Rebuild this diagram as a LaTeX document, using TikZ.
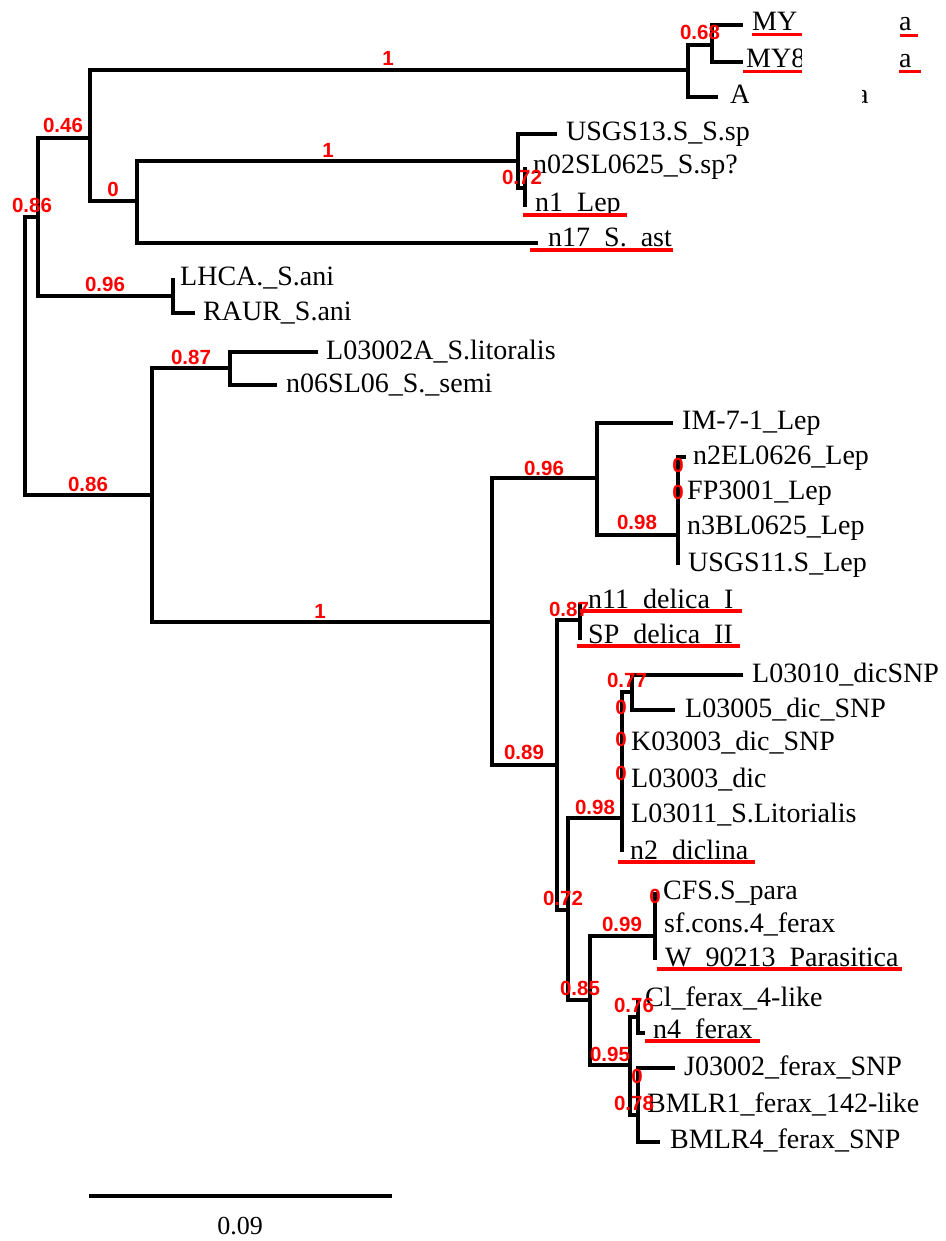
\documentclass[tikz,border=0pt]{standalone}
\usepackage{fontspec}
\setmainfont{Liberation Serif}
\newfontfamily\supfont{Liberation Sans}
\begin{document}
\begin{tikzpicture}[x=1pt,y=-1pt,
  br/.style={line width=3.5pt, line join=miter, line cap=butt, black},
  leaf/.style={anchor=base west, inner sep=0pt, font=\fontsize{28}{30}\selectfont},
  sup/.style={text=red, inner sep=0pt, font=\supfont\bfseries\fontsize{20.5}{22}\selectfont},
  ul/.style={draw=red, line width=3.8pt},
  cover/.style={fill=white, draw=none}]
\useasboundingbox (0,0) rectangle (945,1241);
% internal nodes
\coordinate (R) at (25,356);
\coordinate (nA) at (38,217);
\coordinate (nC) at (90,138);
\coordinate (nE) at (688,70);
\coordinate (nG) at (712,45);
\coordinate (nF) at (137,201);
\coordinate (nH) at (518,161);
\coordinate (nI) at (525,188);
\coordinate (nD) at (173,296);
\coordinate (nB) at (152,495);
\coordinate (nJ) at (230,368);
\coordinate (nK) at (492,622);
\coordinate (nL) at (597,478);
\coordinate (nN) at (678,535);
\coordinate (nM) at (557,765);
\coordinate (nO) at (580,620);
\coordinate (nP) at (568,910);
\coordinate (nQ) at (622,818);
\coordinate (nS) at (632,692);
\coordinate (nR) at (590,1000);
\coordinate (nT) at (655,936);
\coordinate (nU) at (630,1065);
\coordinate (nV) at (638,1017);
\coordinate (nW) at (638,1115);
% tips
\coordinate (pMY1) at (743,25);
\coordinate (pMY8) at (743,62);
\coordinate (pA) at (718,97);
\coordinate (pUS13) at (557,134);
\coordinate (pN02) at (525,167);
\coordinate (pN1) at (525,207);
\coordinate (pN17) at (538,243);
\coordinate (pLH) at (173,278);
\coordinate (pRA) at (195,313);
\coordinate (pL02) at (318,352);
\coordinate (pN06) at (277,385);
\coordinate (pIM) at (673,423);
\coordinate (pN2E) at (686,457);
\coordinate (pFP) at (678,492);
\coordinate (pN3B) at (678,527);
\coordinate (pU11) at (678,565);
\coordinate (pN11) at (580,603);
\coordinate (pSP) at (580,640);
\coordinate (pL10) at (743,675);
\coordinate (pL05) at (675,710);
\coordinate (pK03) at (622,743);
\coordinate (pL03) at (622,780);
\coordinate (pL11) at (622,815);
\coordinate (pN2d) at (622,852);
\coordinate (pCFS) at (655,892);
\coordinate (pSF) at (655,925);
\coordinate (pW) at (655,960);
\coordinate (pCl) at (638,1000);
\coordinate (pN4) at (645,1033);
\coordinate (pJ) at (675,1068);
\coordinate (pB1) at (638,1105);
\coordinate (pB4) at (660,1142);
% branches
\draw[br] (R) |- (nA);
\draw[br] (R) |- (nB);
\draw[br] (nA) |- (nC);
\draw[br] (nA) |- (nD);
\draw[br] (nC) |- (nE);
\draw[br] (nC) |- (nF);
\draw[br] (nE) |- (nG);
\draw[br] (nE) |- (pA);
\draw[br] (nG) |- (pMY1);
\draw[br] (nG) |- (pMY8);
\draw[br] (nF) |- (nH);
\draw[br] (nF) |- (pN17);
\draw[br] (nH) |- (pUS13);
\draw[br] (nH) |- (nI);
\draw[br] (nI) |- (pN02);
\draw[br] (nI) |- (pN1);
\draw[br] (nD) |- (pLH);
\draw[br] (nD) |- (pRA);
\draw[br] (nB) |- (nJ);
\draw[br] (nB) |- (nK);
\draw[br] (nJ) |- (pL02);
\draw[br] (nJ) |- (pN06);
\draw[br] (nK) |- (nL);
\draw[br] (nK) |- (nM);
\draw[br] (nL) |- (pIM);
\draw[br] (nL) |- (nN);
\draw[br] (nN) |- (pN2E);
\draw[br] (nN) |- (pFP);
\draw[br] (nN) |- (pN3B);
\draw[br] (nN) |- (pU11);
\draw[br] (nM) |- (nO);
\draw[br] (nM) |- (nP);
\draw[br] (nO) |- (pN11);
\draw[br] (nO) |- (pSP);
\draw[br] (nP) |- (nQ);
\draw[br] (nP) |- (nR);
\draw[br] (nQ) |- (nS);
\draw[br] (nQ) |- (pK03);
\draw[br] (nQ) |- (pL03);
\draw[br] (nQ) |- (pL11);
\draw[br] (nQ) |- (pN2d);
\draw[br] (nS) |- (pL10);
\draw[br] (nS) |- (pL05);
\draw[br] (nR) |- (nT);
\draw[br] (nR) |- (nU);
\draw[br] (nT) |- (pCFS);
\draw[br] (nT) |- (pSF);
\draw[br] (nT) |- (pW);
\draw[br] (nU) |- (nV);
\draw[br] (nU) |- (nW);
\draw[br] (nV) |- (pCl);
\draw[br] (nV) |- (pN4);
\draw[br] (nW) |- (pJ);
\draw[br] (nW) |- (pB1);
\draw[br] (nW) |- (pB4);
% leaf labels
\node[leaf] (tMY1) at (752,31) {MY};
\node[leaf] (tMY1b) at (899,31) {a};
\node[leaf] (tMY8) at (746,68) {MY8};
\node[leaf] (tMY8b) at (899,68) {a};
\node[leaf] (tA) at (730,104) {A};
\node[leaf] (tAb) at (856,104) {a};
\node[leaf] (tUS13) at (566,141) {USGS13.S\_S.sp};
\node[leaf] (tN02) at (533,174) {n02SL0625\_S.sp?};
\node[leaf] (tN1) at (535,212) {n1\_Lep};
\node[leaf] (tN17) at (548,247) {n17\_S.\_ast};
\node[leaf] (tLH) at (180,285) {LHCA.\_S.ani};
\node[leaf] (tRA) at (203,320) {RAUR\_S.ani};
\node[leaf] (tL02) at (326,359) {L03002A\_S.litoralis};
\node[leaf] (tN06) at (286,392) {n06SL06\_S.\_semi};
\node[leaf] (tIM) at (682,429) {IM-7-1\_Lep};
\node[leaf] (tN2E) at (693,464) {n2EL0626\_Lep};
\node[leaf] (tFP) at (687,499) {FP3001\_Lep};
\node[leaf] (tN3B) at (687,534) {n3BL0625\_Lep};
\node[leaf] (tU11) at (688,571) {USGS11.S\_Lep};
\node[leaf] (tN11) at (588,608) {n11\_delica\_I};
\node[leaf] (tSP) at (588,643) {SP\_delica\_II};
\node[leaf] (tL10) at (752,682) {L03010\_dicSNP};
\node[leaf] (tL05) at (685,717) {L03005\_dic\_SNP};
\node[leaf] (tK03) at (631,750) {K03003\_dic\_SNP};
\node[leaf] (tL03) at (631,787) {L03003\_dic};
\node[leaf] (tL11) at (631,822) {L03011\_S.Litorialis};
\node[leaf] (tN2d) at (630,859) {n2\_diclina};
\node[leaf] (tCFS) at (663,899) {CFS.S\_para};
\node[leaf] (tSF) at (664,932) {sf.cons.4\_ferax};
\node[leaf] (tW) at (665,966) {W\_90213\_Parasitica};
\node[leaf] (tCl) at (645,1006) {Cl\_ferax\_4-like};
\node[leaf] (tN4) at (653,1038) {n4\_ferax};
\node[leaf] (tJ) at (684,1075) {J03002\_ferax\_SNP};
\node[leaf] (tB1) at (647,1112) {BMLR1\_ferax\_142-like};
\node[leaf] (tB4) at (670,1148) {BMLR4\_ferax\_SNP};
% white covers over hidden text
\fill[cover] (802,0) rectangle (897,82);
\fill[cover] (749,82) rectangle (862,150);
% red underlines
\draw[ul] (752,34.5) -- (802,34.5);
\draw[ul] (900,35.5) -- (918,35.5);
\draw[ul] (743,71.5) -- (802,71.5);
\draw[ul] (899,71.5) -- (921,71.5);
\draw[ul] (523,215) -- (627,215);
\draw[ul] (530,250) -- (673,250);
\draw[ul] (580,611) -- (742,611);
\draw[ul] (577,646) -- (740,646);
\draw[ul] (618,862) -- (755,862);
\draw[ul] (657,969) -- (902,969);
\draw[ul] (645,1041) -- (760,1041);
% support values
\node[sup] (s1) at (388,58) {1};
\node[sup] (s2) at (700,32) {0.68};
\node[sup] (s3) at (63,125) {0.46};
\node[sup] (s4) at (328,150) {1};
\node[sup] (s5) at (113,189) {0};
\node[sup] (s6) at (522,177) {0.72};
\node[sup] (s7) at (32,205) {0.86};
\node[sup] (s8) at (105,284) {0.96};
\node[sup] (s9) at (191,357) {0.87};
\node[sup] (s10) at (88,484) {0.86};
\node[sup] (s11) at (320,611) {1};
\node[sup] (s12) at (544,468) {0.96};
\node[sup] (s13) at (678,465) {0};
\node[sup] (s14) at (678,492) {0};
\node[sup] (s15) at (637,522) {0.98};
\node[sup] (s16) at (569,609) {0.87};
\node[sup] (s17) at (627,680) {0.77};
\node[sup] (s18) at (621,707) {0};
\node[sup] (s19) at (621,739) {0};
\node[sup] (s20) at (621,773) {0};
\node[sup] (s21) at (524,752) {0.89};
\node[sup] (s22) at (595,807) {0.98};
\node[sup] (s23) at (563,898) {0.72};
\node[sup] (s24) at (655,896) {0};
\node[sup] (s25) at (622,924) {0.99};
\node[sup] (s26) at (580,988) {0.85};
\node[sup] (s27) at (634,1005) {0.76};
\node[sup] (s28) at (610,1054) {0.95};
\node[sup] (s29) at (637,1076) {0};
\node[sup] (s30) at (634,1103) {0.78};
% scale bar
\coordinate (sbL) at (89,1196);
\coordinate (sbR) at (392,1196);
\draw[line width=3.5pt] (sbL) -- (sbR);
\node[inner sep=0pt, font=\fontsize{26}{28}\selectfont] (sbT) at (240,1226) {0.09};
\end{tikzpicture}
\end{document}
